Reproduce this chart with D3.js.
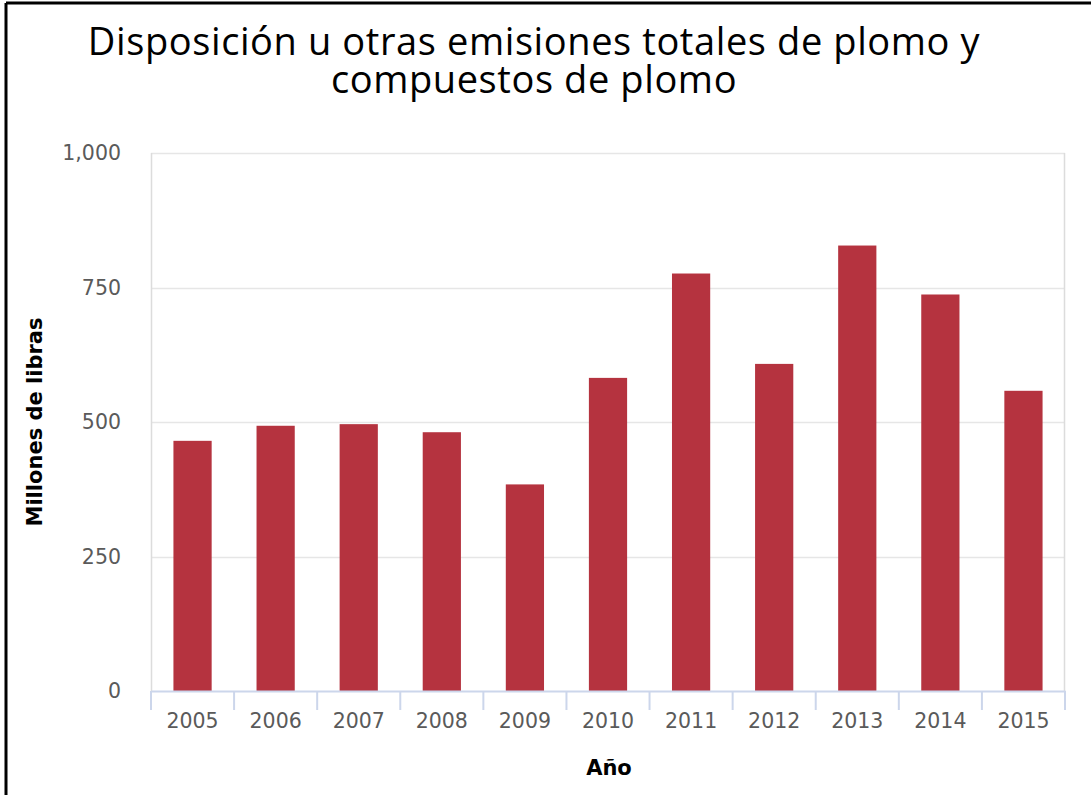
<!DOCTYPE html>
<html>
<head>
<meta charset="utf-8">
<script src="https://cdn.jsdelivr.net/npm/d3@7"></script>
<style>
  body { margin: 0; background: #fff; }
  svg { display: block; }
</style>
</head>
<body>
<div id="chart"></div>
<script>
// data
const years = ["2005", "2006", "2007", "2008", "2009", "2010", "2011", "2012", "2013", "2014", "2015"];
const releases = [465, 493, 496, 481, 384, 582, 776, 608, 828, 737, 558];
const yTicks = [0, 250, 500, 750, 1000];

const width = 1091;
const height = 795;
const margin = { top: 153, right: 26, bottom: 104, left: 151 };

const svg = d3.select("#chart")
    .append("svg")
    .attr("width", width)
    .attr("height", height);

// outer frame (left and top edges visible in the reference)
svg.append("line").attr("x1", 6).attr("x2", 6).attr("y1", 3).attr("y2", height)
    .attr("stroke", "#000").attr("stroke-width", 3);
svg.append("line").attr("x1", 6).attr("x2", width).attr("y1", 3).attr("y2", 3)
    .attr("stroke", "#000").attr("stroke-width", 3);

const innerW = width - margin.left - margin.right;
const innerH = height - margin.top - margin.bottom;

const x = d3.scaleBand()
    .domain(years)
    .range([margin.left, margin.left + innerW])
    .paddingInner(0.54)
    .paddingOuter(0.27);

const y = d3.scaleLinear()
    .domain([0, 1000])
    .range([margin.top + innerH, margin.top]);

// title
svg.append("text")
    .attr("x", 534).attr("y", 55)
    .attr("text-anchor", "middle")
    .style("font-family", "'Open Sans', sans-serif")
    .style("font-size", "38px")
    .style("letter-spacing", "0.6px")
    .attr("fill", "#000")
    .text("Disposición u otras emisiones totales de plomo y");
svg.append("text")
    .attr("x", 534).attr("y", 93)
    .attr("text-anchor", "middle")
    .style("font-family", "'Open Sans', sans-serif")
    .style("font-size", "38px")
    .style("letter-spacing", "0.6px")
    .attr("fill", "#000")
    .text("compuestos de plomo");

// grid lines
svg.append("g")
    .selectAll("line")
    .data(yTicks.filter(d => d > 0))
    .join("line")
    .attr("x1", margin.left)
    .attr("x2", margin.left + innerW)
    .attr("y1", d => Math.round(y(d)) + 0.5)
    .attr("y2", d => Math.round(y(d)) + 0.5)
    .attr("stroke", "#e6e6e6")
    .attr("stroke-width", 1.5);

// plot border (left/right)
svg.append("line")
    .attr("x1", margin.left + 0.5).attr("x2", margin.left + 0.5)
    .attr("y1", margin.top).attr("y2", margin.top + innerH)
    .attr("stroke", "#dcdcdc").attr("stroke-width", 1.5);
svg.append("line")
    .attr("x1", margin.left + innerW - 0.5).attr("x2", margin.left + innerW - 0.5)
    .attr("y1", margin.top).attr("y2", margin.top + innerH)
    .attr("stroke", "#dcdcdc").attr("stroke-width", 1.5);

// bars
svg.append("g")
    .selectAll("rect")
    .data(years)
    .join("rect")
    .attr("x", d => x(d))
    .attr("width", x.bandwidth())
    .attr("y", (d, i) => y(releases[i]))
    .attr("height", (d, i) => y(0) - y(releases[i]))
    .attr("fill", "#b5333f");

// y axis labels
const yAxis = svg.append("g")
    .attr("transform", `translate(${margin.left},0)`)
    .call(d3.axisLeft(y).tickValues(yTicks).tickSize(0).tickPadding(30).tickFormat(d3.format(",")));
yAxis.select(".domain").remove();
yAxis.selectAll("text")
    .style("font-family", "'DejaVu Sans', sans-serif")
    .style("font-size", "20.5px")
    .attr("fill", "#5a5a5a");

// x axis
const xAxis = svg.append("g")
    .attr("transform", `translate(0,${margin.top + innerH})`)
    .call(d3.axisBottom(x).tickSize(0).tickPadding(22));
xAxis.select(".domain")
    .attr("stroke", "#ccd6eb")
    .attr("stroke-width", 2);
xAxis.selectAll("text")
    .style("font-family", "'DejaVu Sans', sans-serif")
    .style("font-size", "20.5px")
    .attr("fill", "#5a5a5a");

// tick marks between categories
const bounds = d3.range(years.length + 1).map(i => margin.left + i * innerW / years.length);
xAxis.selectAll(".sep")
    .data(bounds)
    .join("line")
    .attr("class", "sep")
    .attr("x1", d => d)
    .attr("x2", d => d)
    .attr("y1", 0)
    .attr("y2", 19)
    .attr("stroke", "#ccd6eb")
    .attr("stroke-width", 2);

// axis titles
svg.append("text")
    .attr("transform", `translate(42,${margin.top + innerH / 2}) rotate(-90)`)
    .attr("text-anchor", "middle")
    .style("font-family", "'DejaVu Sans', sans-serif")
    .style("font-size", "21px")
    .style("font-weight", "bold")
    .text("Millones de libras");

svg.append("text")
    .attr("x", 609)
    .attr("y", 775)
    .attr("text-anchor", "middle")
    .style("font-family", "'DejaVu Sans', sans-serif")
    .style("font-size", "21px")
    .style("font-weight", "bold")
    .text("Año");
</script>
</body>
</html>
